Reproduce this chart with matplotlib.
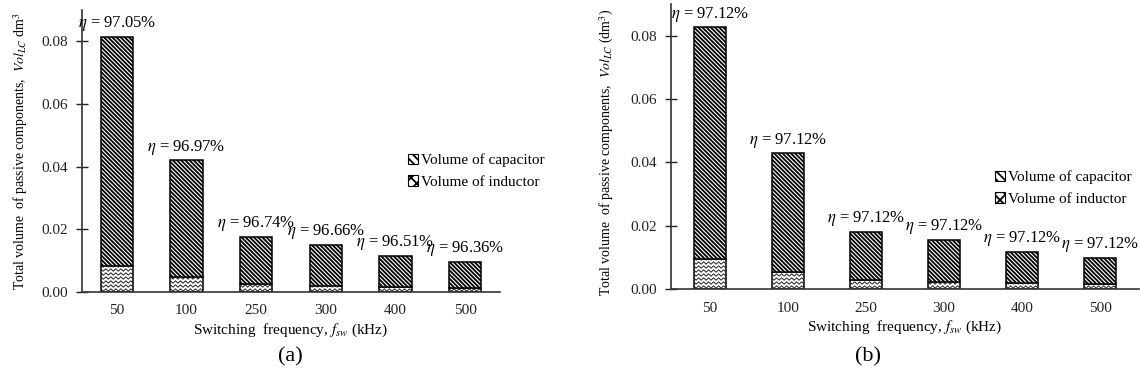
import numpy as np
import matplotlib
matplotlib.use('Agg')
import matplotlib.pyplot as plt
from matplotlib.patches import Patch
from matplotlib.lines import Line2D
from matplotlib.transforms import IdentityTransform

plt.rcParams['font.family'] = ['Liberation Serif', 'DejaVu Serif']
plt.rcParams['mathtext.fontset'] = 'stix'
plt.rcParams['hatch.linewidth'] = 1.3

# data
freqs = ['50', '100', '250', '300', '400', '500']
total_a = [0.0814, 0.0420, 0.0176, 0.0151, 0.0115, 0.0095]
induct_a = [0.0082, 0.0048, 0.0025, 0.0020, 0.0016, 0.0013]
eff_a = ['97.05', '96.97', '96.74', '96.66', '96.51', '96.36']
total_b = [0.0826, 0.0428, 0.0180, 0.0155, 0.0118, 0.0098]
induct_b = [0.0096, 0.0054, 0.0027, 0.0023, 0.0018, 0.0016]
eff_b = ['97.12', '97.12', '97.12', '97.12', '97.12', '97.12']

CAP_HATCH = '\\' * 8

W, H = 1140, 380
fig = plt.figure(figsize=(W / 100, H / 100), dpi=100)


def px_axes(x0, y0, x1, y1):
    # pixel box (left, top, right, bottom) -> axes
    return fig.add_axes([x0 / W, 1 - y1 / H, (x1 - x0) / W, (y1 - y0) / H])


def zigzag(ax, patch, dy=4.0, period=5.0, amp=1.2):
    # wavy fill drawn inside the inductor bar
    (x0, y0), (x1, y1) = ax.transData.transform(
        [(patch.get_x(), patch.get_y()),
         (patch.get_x() + patch.get_width(), patch.get_y() + patch.get_height())])
    xs_all, ys_all = [], []
    xs = np.arange(x0 - period, x1 + period, period / 2)
    sign = np.where(np.arange(len(xs)) % 2 == 0, 1, -1)
    y = y0 + 2.0
    while y < y1 + dy:
        xs_all += list(xs) + [np.nan]
        ys_all += list(y + amp * sign) + [np.nan]
        y += dy
    ln = Line2D(xs_all, ys_all, transform=IdentityTransform(), color='#222222', lw=0.7)
    ax.add_artist(ln)
    ln.set_clip_path(patch)


def panel(ax, total, induct, eff, ylab, bar_w):
    x = np.arange(len(freqs))
    cap = [t - i for t, i in zip(total, induct)]
    ax.set_xlim(-0.5, len(freqs) - 0.5)
    ax.set_ylim(0, 0.09)
    ind_bars = ax.bar(x, induct, bar_w, color='white', edgecolor='black', lw=1.1, zorder=2)
    ax.bar(x, cap, bar_w, bottom=induct, color='white', edgecolor='black',
           hatch=CAP_HATCH, lw=1.1, zorder=2)
    for p in ind_bars:
        zigzag(ax, p)
    for xi, t, e in zip(x, total, eff):
        ax.text(xi, t + 0.0012, r'$\eta$ = ' + e + '%', ha='center', va='bottom',
                fontsize=12)
    ax.set_xticks(x)
    ax.set_xticklabels(freqs)
    ax.set_yticks([0, 0.02, 0.04, 0.06, 0.08])
    ax.set_yticklabels(['%.2f' % v for v in [0, 0.02, 0.04, 0.06, 0.08]])
    ax.tick_params(axis='x', length=0, pad=9, labelsize=11, colors='#222222')
    ax.tick_params(axis='y', direction='inout', length=8, width=1, pad=6,
                   labelsize=11, colors='#222222')
    for s in ['top', 'right']:
        ax.spines[s].set_visible(False)
    for s in ['left', 'bottom']:
        ax.spines[s].set_color('#333333')
        ax.spines[s].set_linewidth(1.2)
    ax.set_xlabel('Switching  frequency, $f_{sw}$ (kHz)', fontsize=11, labelpad=3)
    ax.set_ylabel(ylab, fontsize=10, labelpad=8)


handles = [Patch(facecolor='white', edgecolor='black', hatch='\\\\\\\\', lw=0.8),
           Patch(facecolor='white', edgecolor='black', hatch='xxx', lw=0.8)]
labels = ['Volume of capacitor', 'Volume of inductor']

ax1 = px_axes(82, 10, 500, 292)
panel(ax1, total_a, induct_a, eff_a,
      'Total volume  of passive components,  $Vol_{LC}$ dm$^3$', 0.46)
fig.legend(handles, labels, loc='upper left', bbox_to_anchor=(400 / W, 1 - 146 / H),
           frameon=False, fontsize=11, handlelength=0.7, handleheight=0.7,
           handletextpad=0.2, labelspacing=0.5, borderpad=0)
fig.text(290 / W, 1 - 357 / H, '(a)', ha='center', va='center', fontsize=16)

ax2 = px_axes(671, 4, 1139, 289)
panel(ax2, total_b, induct_b, eff_b,
      'Total volume  of passive components,  $Vol_{LC}$ (dm$^3$)', 0.42)
ax2.yaxis.set_label_coords(-0.117, 0.48)
fig.legend(handles, labels, loc='upper left', bbox_to_anchor=(987 / W, 1 - 163 / H),
           frameon=False, fontsize=11, handlelength=0.7, handleheight=0.7,
           handletextpad=0.2, labelspacing=0.5, borderpad=0)
fig.text(868 / W, 1 - 357 / H, '(b)', ha='center', va='center', fontsize=16)

fig.savefig('out.png', dpi=100)
